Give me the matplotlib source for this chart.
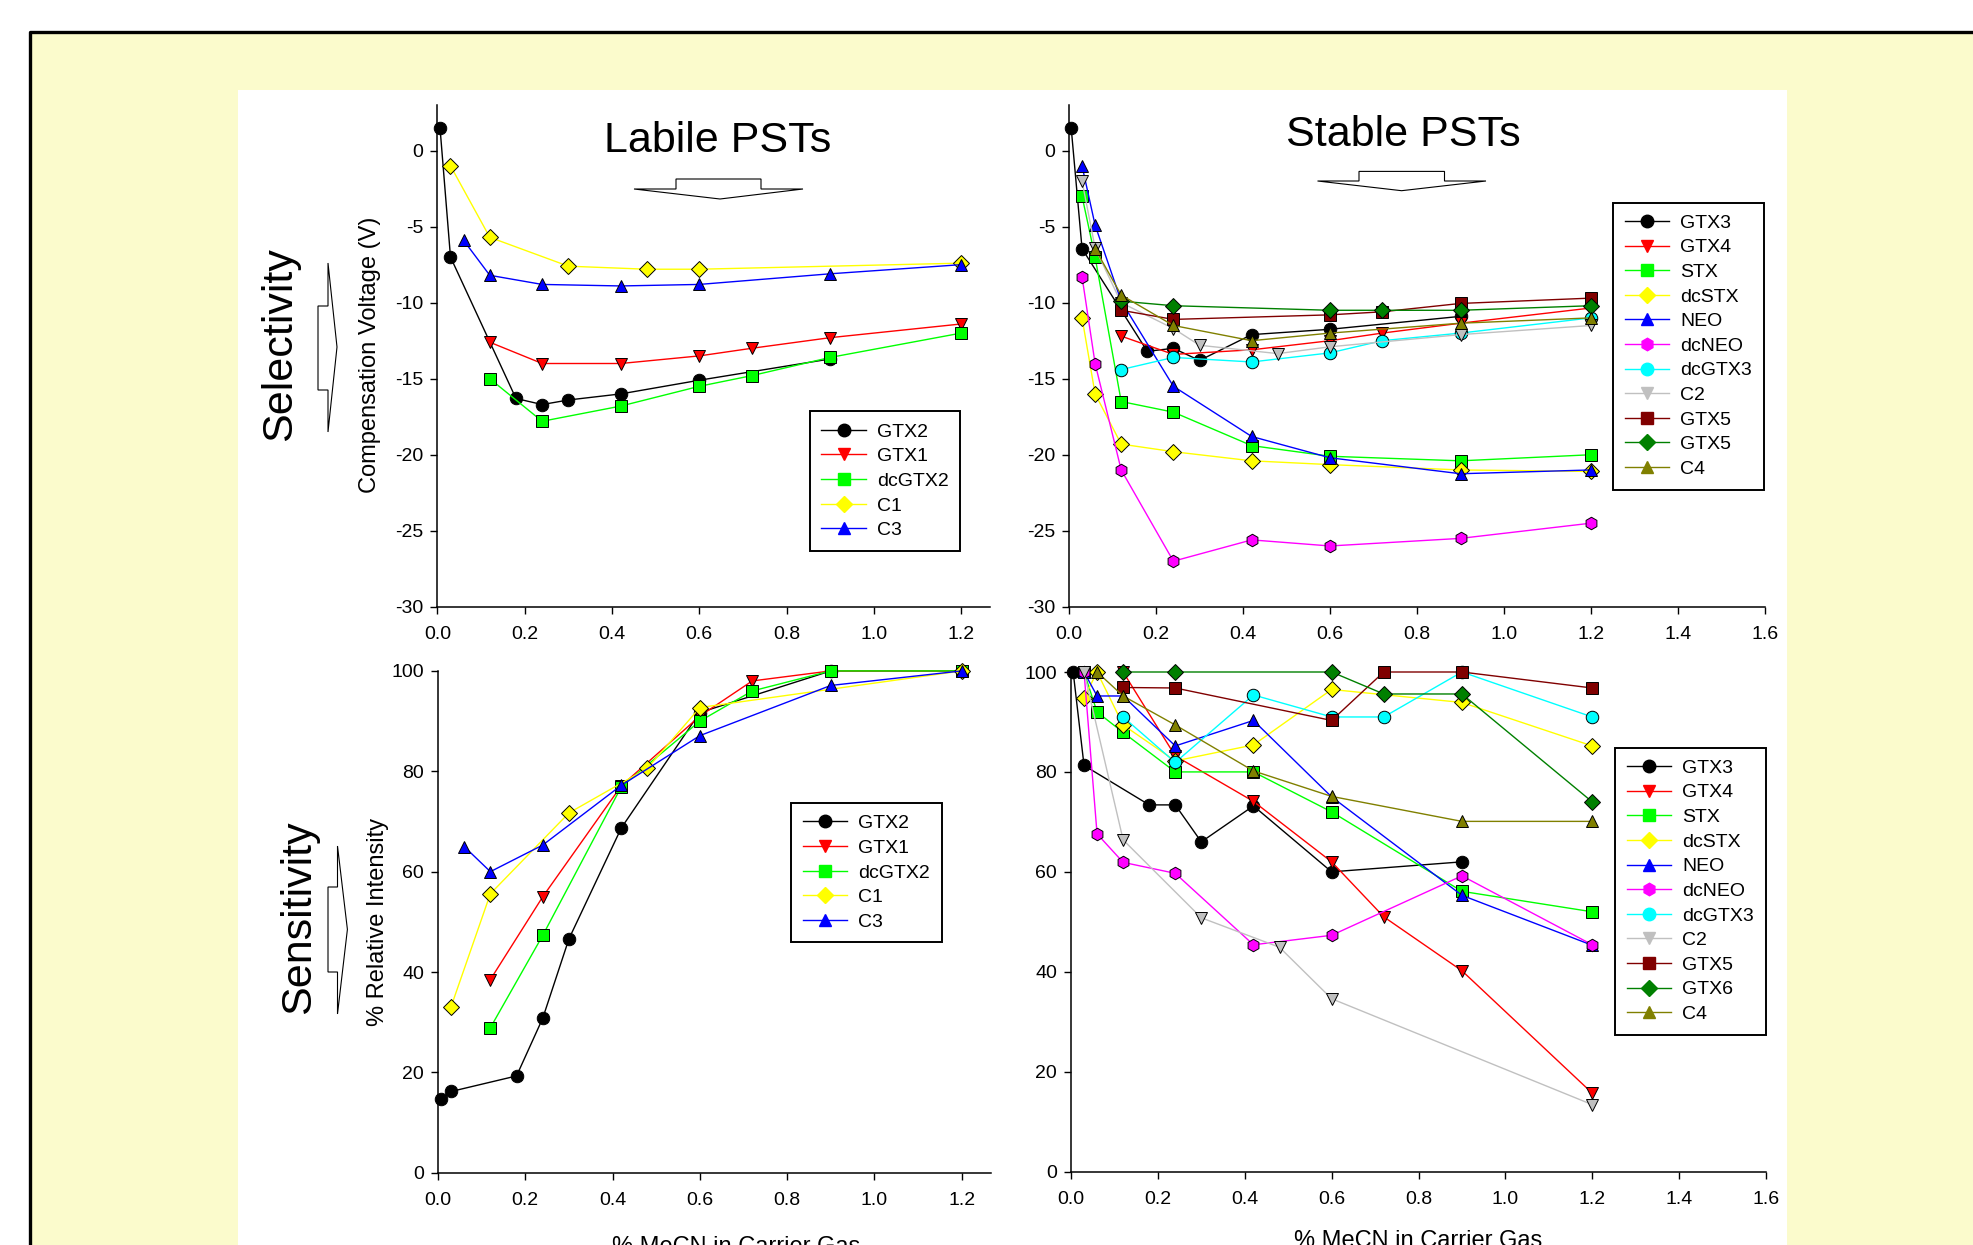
import matplotlib
matplotlib.use("Agg")
import matplotlib.pyplot as plt
from matplotlib.patches import Rectangle, Polygon
from matplotlib.lines import Line2D

plt.rcParams['font.family'] = ['Liberation Sans', 'DejaVu Sans']
plt.rcParams['axes.unicode_minus'] = False

W, H = 1973, 1245

# ---- data: labile PSTs ----
labile_names = ["GTX2", "GTX1", "dcGTX2", "C1", "C3"]
labile_colors = ["black", "#ff0000", "#00ff00", "#ffff00", "#0000ff"]
labile_markers = ["o", "v", "s", "D", "^"]

labile_cv_x = [
    [0.006, 0.03, 0.18, 0.24, 0.30, 0.42, 0.60, 0.90],
    [0.12, 0.24, 0.42, 0.60, 0.72, 0.90, 1.20],
    [0.12, 0.24, 0.42, 0.60, 0.72, 0.90, 1.20],
    [0.03, 0.12, 0.30, 0.48, 0.60, 1.20],
    [0.06, 0.12, 0.24, 0.42, 0.60, 0.90, 1.20],
]
labile_cv_y = [
    [1.5, -7.0, -16.3, -16.7, -16.4, -16.0, -15.1, -13.7],
    [-12.6, -14.0, -14.0, -13.5, -13.0, -12.3, -11.4],
    [-15.0, -17.8, -16.8, -15.5, -14.8, -13.6, -12.0],
    [-1.0, -5.7, -7.6, -7.8, -7.8, -7.4],
    [-5.9, -8.2, -8.8, -8.9, -8.8, -8.1, -7.5],
]

labile_int_x = [
    [0.006, 0.03, 0.18, 0.24, 0.30, 0.42, 0.60, 0.90, 1.20],
    [0.12, 0.24, 0.42, 0.60, 0.72, 0.90, 1.20],
    [0.12, 0.24, 0.42, 0.60, 0.72, 0.90, 1.20],
    [0.03, 0.12, 0.30, 0.48, 0.60, 1.20],
    [0.06, 0.12, 0.24, 0.42, 0.60, 0.90, 1.20],
]
labile_int_y = [
    [14.7, 16.2, 19.3, 30.8, 46.6, 68.7, 91.7, 100, 100],
    [38.5, 55.0, 77.1, 91.0, 98.0, 100, 100],
    [28.9, 47.3, 76.9, 90.0, 96.0, 100, 100],
    [33.1, 55.6, 71.7, 80.6, 92.7, 100],
    [65.0, 60.0, 65.3, 77.2, 87.1, 97.1, 100],
]

# ---- data: stable PSTs ----
stable_cv_names = ["GTX3", "GTX4", "STX", "dcSTX", "NEO", "dcNEO", "dcGTX3",
                   "C2", "GTX5", "GTX5", "C4"]
stable_int_names = ["GTX3", "GTX4", "STX", "dcSTX", "NEO", "dcNEO", "dcGTX3",
                    "C2", "GTX5", "GTX6", "C4"]
stable_colors = ["black", "#ff0000", "#00ff00", "#ffff00", "#0000ff", "#ff00ff",
                 "#00ffff", "#c0c0c0", "#800000", "#008000", "#808000"]
stable_markers = ["o", "v", "s", "D", "^", "h", "o", "v", "s", "D", "^"]

stable_cv_x = [
    [0.005, 0.03, 0.18, 0.24, 0.30, 0.42, 0.60, 0.90],
    [0.12, 0.24, 0.42, 0.60, 0.72, 0.90, 1.20],
    [0.03, 0.06, 0.12, 0.24, 0.42, 0.60, 0.90, 1.20],
    [0.03, 0.06, 0.12, 0.24, 0.42, 0.60, 0.90, 1.20],
    [0.03, 0.06, 0.12, 0.24, 0.42, 0.60, 0.90, 1.20],
    [0.03, 0.06, 0.12, 0.24, 0.42, 0.60, 0.90, 1.20],
    [0.12, 0.24, 0.42, 0.60, 0.72, 0.90, 1.20],
    [0.03, 0.06, 0.12, 0.24, 0.30, 0.48, 0.60, 0.90, 1.20],
    [0.12, 0.24, 0.60, 0.72, 0.90, 1.20],
    [0.12, 0.24, 0.60, 0.72, 0.90, 1.20],
    [0.06, 0.12, 0.24, 0.42, 0.60, 0.90, 1.20],
]
stable_cv_y = [
    [1.5, -6.45, -13.2, -13.0, -13.8, -12.1, -11.75, -10.9],
    [-12.2, -13.4, -13.1, -12.5, -12.0, -11.35, -10.35],
    [-3.0, -7.0, -16.5, -17.2, -19.4, -20.1, -20.4, -20.0],
    [-11.0, -16.0, -19.3, -19.8, -20.4, -20.65, -21.0, -21.1],
    [-1.0, -4.9, -9.9, -15.5, -18.8, -20.2, -21.25, -21.0],
    [-8.3, -14.0, -21.0, -27.0, -25.6, -26.0, -25.5, -24.5],
    [-14.4, -13.6, -13.9, -13.3, -12.5, -12.0, -11.0],
    [-2.0, -6.4, -10.0, -11.7, -12.8, -13.35, -12.9, -12.1, -11.5],
    [-10.5, -11.1, -10.8, -10.6, -10.05, -9.7],
    [-9.9, -10.2, -10.5, -10.5, -10.5, -10.2],
    [-6.45, -9.5, -11.5, -12.5, -12.0, -11.35, -11.0],
]

stable_int_x = [
    [0.005, 0.03, 0.18, 0.24, 0.30, 0.42, 0.60, 0.90],
    [0.12, 0.24, 0.42, 0.60, 0.72, 0.90, 1.20],
    [0.03, 0.06, 0.12, 0.24, 0.42, 0.60, 0.90, 1.20],
    [0.03, 0.06, 0.12, 0.24, 0.42, 0.60, 0.90, 1.20],
    [0.03, 0.06, 0.12, 0.24, 0.42, 0.60, 0.90, 1.20],
    [0.03, 0.06, 0.12, 0.24, 0.42, 0.60, 0.90, 1.20],
    [0.12, 0.24, 0.42, 0.60, 0.72, 0.90, 1.20],
    [0.03, 0.12, 0.30, 0.48, 0.60, 1.20],
    [0.12, 0.24, 0.60, 0.72, 0.90, 1.20],
    [0.12, 0.24, 0.60, 0.72, 0.90, 1.20],
    [0.06, 0.12, 0.24, 0.42, 0.60, 0.90, 1.20],
]
stable_int_y = [
    [100, 81.3, 73.4, 73.4, 66.0, 73.2, 60.0, 62.0],
    [100, 83.2, 74.1, 62.0, 51.0, 40.2, 15.7],
    [100, 92.0, 87.9, 80.0, 80.0, 72.0, 56.1, 52.0],
    [94.8, 100, 89.4, 82.2, 85.4, 96.5, 93.9, 85.2],
    [100, 95.2, 95.2, 85.2, 90.3, 75.0, 55.3, 45.3],
    [100, 67.6, 61.9, 59.7, 45.4, 47.3, 59.2, 45.4],
    [91.0, 81.9, 95.4, 91.0, 91.0, 100, 91.0],
    [100, 66.4, 50.8, 44.9, 34.6, 13.4],
    [96.9, 96.8, 90.3, 100, 100, 96.8],
    [100, 100, 100, 95.6, 95.6, 74.0],
    [100, 95.2, 89.4, 80.2, 75.1, 70.1, 70.1],
]


def fx(px):
    return px / W


def fy(py):
    return 1 - py / H


fig = plt.figure(figsize=(W / 100, H / 100), dpi=100, facecolor="white")

# background: yellow framed slide + white panel
fig.add_artist(Rectangle((fx(30), 0), 1 - fx(30), fy(33), facecolor="#fbfbcc",
                         edgecolor="none", transform=fig.transFigure, zorder=-10))
fig.add_artist(Line2D([fx(30), fx(30), 1], [0, fy(31.5), fy(31.5)], color="black",
                      lw=2.4, transform=fig.transFigure, zorder=-9))
fig.add_artist(Rectangle((fx(238), 0), fx(1787) - fx(238), fy(90), facecolor="white",
                         edgecolor="none", transform=fig.transFigure, zorder=-8))


def make_axes(left_px, right_px, top_px, bottom_px):
    ax = fig.add_axes([fx(left_px), fy(bottom_px), (right_px - left_px) / W,
                       (bottom_px - top_px) / H])
    ax.patch.set_alpha(0)
    for s in ("top", "right"):
        ax.spines[s].set_visible(False)
    for s in ("left", "bottom"):
        ax.spines[s].set_linewidth(1.1)
    ax.tick_params(direction="out", length=5, width=1.0, labelsize=14)
    ax.tick_params(axis="x", pad=9)
    ax.tick_params(axis="y", pad=5)
    return ax


def draw(ax, xs, ys, colors, markers):
    for x, y, c, m in zip(xs, ys, colors, markers):
        ms = 8 if m in ("s", "D") else 9
        ax.plot(x, y, color=c, lw=1.0, marker=m, ms=ms, mfc=c, mec="black",
                mew=0.7, clip_on=False)


def add_legend(ax, names, colors, markers, left_px, top_px):
    handles = []
    for n, c, m in zip(names, colors, markers):
        ms = 8 if m in ("s", "D") else 9
        handles.append(Line2D([], [], color=c, lw=1.0, marker=m, ms=ms,
                              mfc=c, mec=c, label=n))
    leg = ax.legend(handles=handles, loc="upper left",
                    bbox_to_anchor=(fx(left_px), fy(top_px)),
                    bbox_transform=fig.transFigure, borderaxespad=0,
                    fontsize=14, handlelength=2.3, handletextpad=0.55,
                    labelspacing=0.36, borderpad=0.6, fancybox=False,
                    framealpha=1, edgecolor="black")
    leg.get_frame().set_linewidth(1.4)


# top-left: labile CV
ax1 = make_axes(437.4, 990, 105, 606.8)
draw(ax1, labile_cv_x, labile_cv_y, labile_colors, labile_markers)
ax1.set_xlim(0, 1.266)
ax1.set_ylim(-30, 3)
ax1.set_xticks([0, 0.2, 0.4, 0.6, 0.8, 1.0, 1.2])
ax1.set_xticklabels(["0.0", "0.2", "0.4", "0.6", "0.8", "1.0", "1.2"])
ax1.set_yticks([0, -5, -10, -15, -20, -25, -30])
add_legend(ax1, labile_names, labile_colors, labile_markers, 809.6, 411.4)

# top-right: stable CV
ax2 = make_axes(1069, 1765, 105, 606.8)
draw(ax2, stable_cv_x, stable_cv_y, stable_colors, stable_markers)
ax2.set_xlim(0, 1.6)
ax2.set_ylim(-30, 3)
ax2.set_xticks([0, 0.2, 0.4, 0.6, 0.8, 1.0, 1.2, 1.4, 1.6])
ax2.set_xticklabels(["0.0", "0.2", "0.4", "0.6", "0.8", "1.0", "1.2", "1.4", "1.6"])
ax2.set_yticks([0, -5, -10, -15, -20, -25, -30])
add_legend(ax2, stable_cv_names, stable_colors, stable_markers, 1613, 202.5)

# bottom-left: labile intensity
ax3 = make_axes(438, 990.5, 670.9, 1172.8)
draw(ax3, labile_int_x, labile_int_y, labile_colors, labile_markers)
ax3.set_xlim(0, 1.266)
ax3.set_ylim(0, 100)
ax3.set_xticks([0, 0.2, 0.4, 0.6, 0.8, 1.0, 1.2])
ax3.set_xticklabels(["0.0", "0.2", "0.4", "0.6", "0.8", "1.0", "1.2"])
ax3.set_yticks([0, 20, 40, 60, 80, 100])
add_legend(ax3, labile_names, labile_colors, labile_markers, 791, 803)

# bottom-right: stable intensity
ax4 = make_axes(1071, 1766, 672, 1171.6)
draw(ax4, stable_int_x, stable_int_y, stable_colors, stable_markers)
ax4.set_xlim(0, 1.6)
ax4.set_ylim(0, 100)
ax4.set_xticks([0, 0.2, 0.4, 0.6, 0.8, 1.0, 1.2, 1.4, 1.6])
ax4.set_xticklabels(["0.0", "0.2", "0.4", "0.6", "0.8", "1.0", "1.2", "1.4", "1.6"])
ax4.set_yticks([0, 20, 40, 60, 80, 100])
add_legend(ax4, stable_int_names, stable_colors, stable_markers, 1615, 747.6)

# titles and labels
fig.text(fx(717.6), fy(152.5), "Labile PSTs", fontsize=31, ha="center", va="baseline")
fig.text(fx(1403.8), fy(146), "Stable PSTs", fontsize=31, ha="center", va="baseline")
fig.text(fx(280), fy(344.5), "Selectivity", fontsize=31, rotation=90,
         ha="center", va="center")
fig.text(fx(299), fy(917), "Sensitivity", fontsize=31, rotation=90,
         ha="center", va="center")
fig.text(fx(370), fy(354.5), "Compensation Voltage (V)", fontsize=17, rotation=90,
         ha="center", va="center")
fig.text(fx(378), fy(922), "% Relative Intensity", fontsize=17, rotation=90,
         ha="center", va="center")
fig.text(fx(736), fy(1236), "% MeCN in Carrier Gas", fontsize=17, ha="center", va="top")
fig.text(fx(1418), fy(1230), "% MeCN in Carrier Gas", fontsize=17, ha="center", va="top")


# hollow arrows
def arrow(points):
    fig.add_artist(Polygon([(fx(a), fy(b)) for a, b in points], closed=True,
                           facecolor="white", edgecolor="black", lw=0.8,
                           transform=fig.transFigure))


arrow([(634, 189), (676, 189), (676, 179), (761, 179), (761, 189), (803, 189), (720, 199)])
arrow([(1317.5, 181), (1359, 181), (1359, 171.4), (1444.5, 171.4), (1444.5, 181),
       (1486, 181), (1401.6, 190.7)])
arrow([(328, 263), (337, 347), (328, 432), (328, 390), (318, 390), (318, 306), (328, 306)])
arrow([(337.5, 846), (347.4, 929.4), (337.5, 1014), (337.5, 972), (328, 972),
       (328, 887), (337.5, 887)])

fig.savefig("out.png", dpi=100)
